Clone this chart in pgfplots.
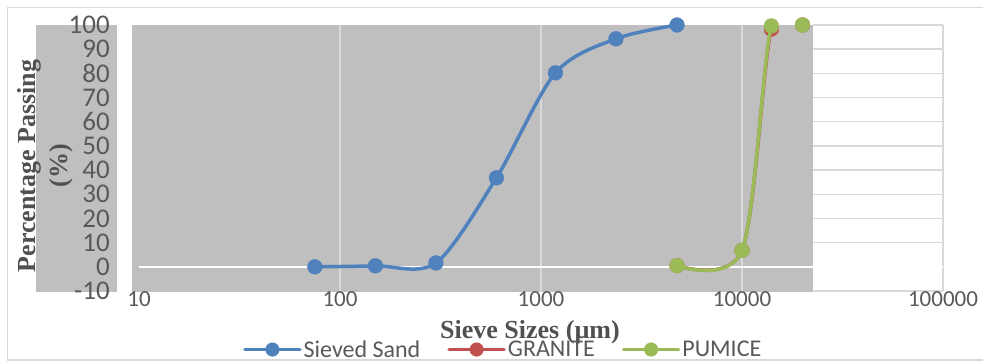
\documentclass[border=0pt]{standalone}
\usepackage{fontspec}
\setmainfont{Liberation Serif}
\newfontfamily\carlito{Carlito}
\usepackage{pgfplots}
\pgfplotsset{compat=1.18}
\definecolor{sand}{HTML}{4F81BD}
\definecolor{granite}{HTML}{C0504D}
\definecolor{pumice}{HTML}{9BBB59}
\definecolor{plotgrey}{HTML}{BFBFBF}
\definecolor{gridc}{HTML}{D9D9D9}
\definecolor{txt}{HTML}{595959}
\definecolor{ttl}{HTML}{505050}
\begin{document}
\begin{tikzpicture}
\useasboundingbox (0pt,0pt) rectangle (983pt,361pt);
\begin{scope}[x=1pt,y=1pt]
\draw[gridc, line width=1.2] (995,353.7) -- (7.5,353.7) -- (7.5,1) -- (995,1);
\fill[plotgrey] (36,69) rectangle (117,336);
\fill[plotgrey] (132,69) rectangle (813,336);
\foreach \k in {0,...,11} \draw[gridc,line width=1.5] (813,{70+\k*24.1818}) -- (943,{70+\k*24.1818});
\draw[gridc,line width=1.5] (943,70) -- (943,336);
\foreach \xx in {340,541,742} \draw[gridc,line width=1.5] (\xx,69) -- (\xx,336);
\draw[white,line width=1.5] (139,94.2) -- (943,94.2);
\node[rotate=90, align=center, font=\bfseries\fontsize{26}{32}\selectfont, text=ttl] at (45,195) {Percentage Passing\\(\%)};
\node[anchor=base, font=\bfseries\fontsize{26}{30}\selectfont, text=ttl] at (530,22) {Sieve Sizes (µm)};
\end{scope}
\begin{axis}[
  at={(139pt,70pt)}, anchor=south west,
  scale only axis, width=804pt, height=266pt,
  xmode=log, xmin=10, xmax=100000, ymin=-10, ymax=100,
  xtick={10,100,1000,10000,100000},
  xticklabels={10,100,1000,10000,100000},
  minor xtick={},
  ytick={-10,0,...,100},
  yticklabels={-10,0,10,20,30,40,50,60,70,80,90,100},
  axis line style={draw=none},
  major tick length=0pt, minor tick length=0pt,
  tick style={draw=none},
  xticklabel style={font=\carlito\fontsize{23}{23}\selectfont, text=txt, anchor=north, inner sep=0pt, yshift=-0.5pt},
  yticklabel style={font=\carlito\fontsize{27}{27}\selectfont, text=txt, anchor=east, inner sep=0pt, xshift=-29pt},
  clip mode=individual,
  legend columns=3,
  legend style={at={(0.4530,-0.2200)}, anchor=center, draw=none, fill=none,
    font=\carlito\fontsize{24}{24}\selectfont, text=txt, cells={anchor=west},
    /tikz/every even column/.append style={column sep=25pt}},
  legend image code/.code={\draw[mark repeat=2,mark phase=2,#1,mark size=6.8pt] plot coordinates {(0pt,0pt) (27.5pt,0pt) (55pt,0pt)};},
  every axis plot/.append style={line width=3.5pt, smooth, tension=0.5, mark=*, mark size=7.4pt, line cap=round, line join=round},
]
\addplot[color=sand, mark options={fill=sand, draw=sand, line width=0.4pt}] coordinates {
(75,0) (150,0.4) (300,1.6) (600,36.8) (1180,80.2) (2360,94.3) (4750,100)};
\addlegendentry{Sieved Sand}
\addplot[color=granite, mark options={fill=granite, draw=granite, line width=0.4pt}] coordinates {
(4750,0.5) (10000,6.8) (14000,98.3) (20000,100)};
\addlegendentry{GRANITE}
\addplot[color=pumice, mark options={fill=pumice, draw=pumice, line width=0.4pt}] coordinates {
(4750,0.5) (10000,6.8) (14000,99.6) (20000,100)};
\addlegendentry{PUMICE}
\end{axis}
\end{tikzpicture}
\end{document}
